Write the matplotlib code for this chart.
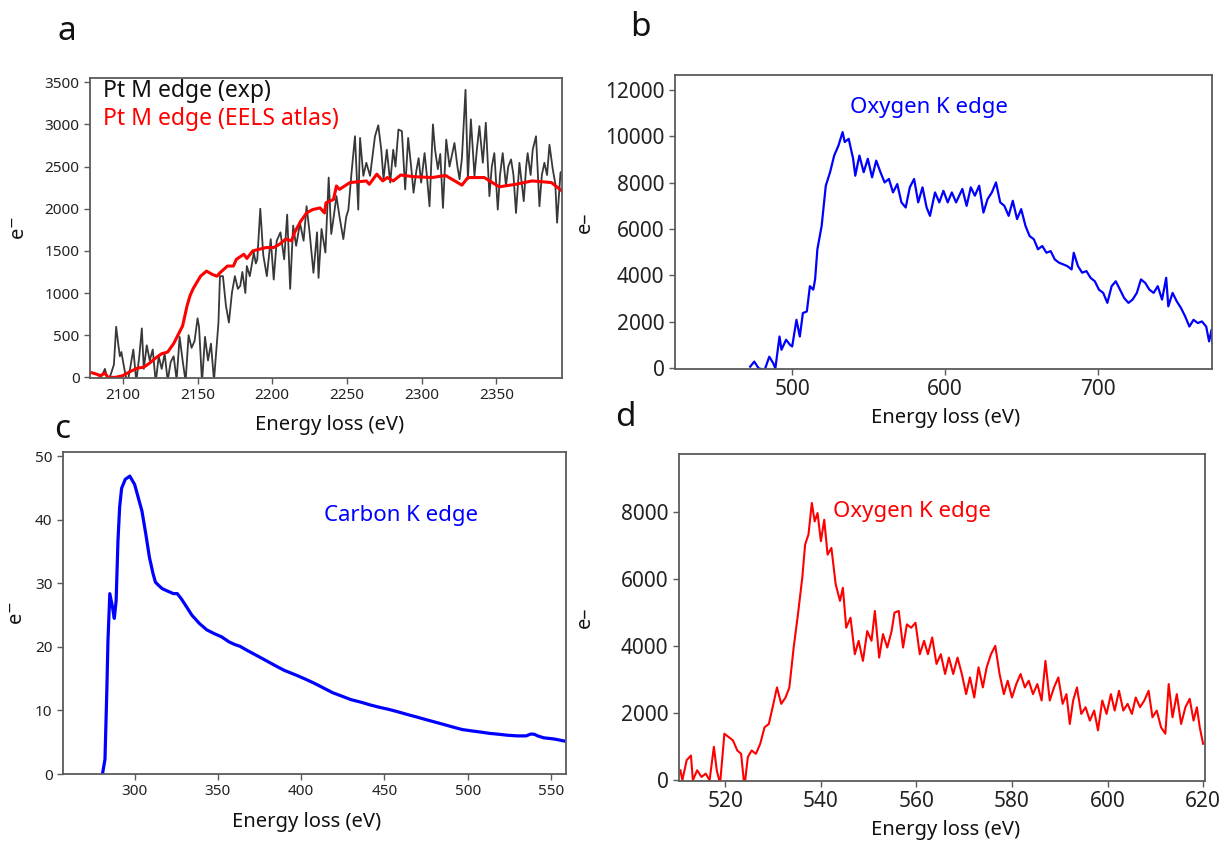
import matplotlib
matplotlib.use("Agg")
import matplotlib.pyplot as plt

plt.rcParams['font.family'] = ['Noto Sans', 'DejaVu Sans']

# ---- panel a : Pt M edge ----
pt_exp_ev = [2084, 2086, 2088, 2090, 2092, 2094, 2095.5, 2097, 2098, 2099, 2101, 2103, 2105, 2107,
             2109, 2111, 2112.7, 2114, 2116, 2118, 2120, 2122, 2124, 2126, 2128, 2130, 2132, 2134,
             2136, 2138, 2140, 2142, 2144, 2146, 2148, 2150, 2151, 2153, 2155, 2157, 2159, 2161,
             2162.5, 2164, 2165, 2167, 2169, 2171, 2173, 2175, 2177, 2178.6, 2180, 2182, 2183, 2185,
             2187.7, 2189, 2190, 2192, 2194, 2196.4, 2199, 2201, 2203, 2205.5, 2208, 2210, 2212, 2214,
             2216, 2218.6, 2221, 2223, 2225, 2227.6, 2230, 2231, 2233, 2235.6, 2237.8, 2239.5, 2240.9,
             2243, 2245, 2247.6, 2249.5, 2251, 2253, 2255.4, 2257.6, 2258.8, 2261, 2263, 2265.5, 2267,
             2268.8, 2271, 2273, 2274.5, 2276.7, 2279, 2281, 2282.5, 2284.5, 2286.8, 2289, 2291, 2293,
             2294.6, 2296.5, 2298, 2299.7, 2302, 2303.5, 2305.3, 2307.6, 2309, 2310.9, 2312.5, 2314.3,
             2316.5, 2318.7, 2320.5, 2322, 2324, 2325.4, 2327, 2329.4, 2331, 2333, 2335.4, 2337, 2338.7,
             2341, 2343, 2345.4, 2347, 2348.7, 2351, 2352.5, 2354.3, 2356.5, 2358, 2359.9, 2361.5,
             2363.2, 2365.5, 2368.4, 2370, 2371, 2373, 2374.4, 2376.6, 2378.9, 2380.5, 2382.2, 2384,
             2385.6, 2387.8, 2389.5, 2390.7, 2393, 2394.5]
pt_exp_counts = [0, 20, 100, -50, 40, 150, 600, 380, 250, 300, 100, -80, 120, 330,
                 -50, 250, 580, 100, 380, 200, 330, -60, 250, 100, 280, -40, 180, 250,
                 -30, 480, 200, -50, 500, 350, 430, 700, 600, -60, 480, 200, 400, -40,
                 300, 650, 1200, 1200, 850, 650, 1000, 1200, 1050, 1085, 1250, 1000, 1320, 1200,
                 1480, 1350, 1400, 2000, 1450, 1200, 1640, 1160, 1620, 1720, 1400, 1930, 1050, 1800,
                 1560, 1830, 1620, 2030, 1720, 1240, 1720, 1180, 1760, 1480, 2370, 1700, 1870,
                 2150, 1910, 1640, 1900, 1990, 2410, 2860, 1990, 2840, 2390, 2545, 2390, 2600,
                 2860, 2990, 2700, 2350, 2700, 2310, 2700, 2500, 2940, 2920, 2230, 2840, 2500,
                 2190, 2450, 2600, 2310, 2660, 2400, 2030, 3000, 2700, 2470, 2650, 2010,
                 2820, 2500, 2650, 2780, 2500, 2350, 2600, 3410, 2350, 3060, 2390, 2700, 2980,
                 2545, 3020, 2150, 2500, 2660, 1990, 2400, 2660, 2270, 2500, 2585, 2400,
                 1950, 2545, 2090, 2500, 2660, 2400, 2700, 2860, 2030, 2400, 2545, 2400,
                 2760, 2470, 2300, 1835, 2430, 2450]

pt_atlas_ev = [2078, 2082, 2085, 2088, 2090, 2095, 2100, 2105, 2110, 2114, 2118, 2122, 2126, 2130,
               2134, 2138, 2140, 2143, 2145, 2147, 2152, 2156, 2160, 2163, 2165, 2170, 2174, 2176,
               2181, 2183, 2187, 2196, 2201, 2205, 2209, 2213, 2215, 2219, 2223, 2227, 2232, 2235,
               2236, 2241, 2243, 2245, 2252, 2263, 2265, 2270, 2274, 2277, 2281, 2286, 2295, 2307,
               2316, 2327, 2331, 2342, 2352, 2363, 2374, 2381, 2387, 2394]
pt_atlas_counts = [60, 40, 20, 50, 0, 0, 20, 70, 110, 120, 170, 230, 280, 300,
                   400, 540, 610, 850, 970, 1050, 1200, 1260, 1220, 1200, 1240, 1320, 1320, 1400,
                   1460, 1410, 1500, 1540, 1540, 1580, 1640, 1620, 1720, 1850, 1950, 1990, 2010, 1950,
                   2070, 2110, 2270, 2230, 2310, 2330, 2290, 2410, 2330, 2370, 2330, 2400, 2380, 2370,
                   2395, 2280, 2370, 2370, 2260, 2290, 2330, 2320, 2310, 2210]

# ---- panel b : Oxygen K edge (wide range) ----
ok_wide_ev = [472.5, 475.2, 478, 482, 485, 487.6, 489, 491.7, 493, 496, 498.6, 500, 502.8, 505,
              507, 509.6, 511.6, 513.8, 515, 516.5, 519.3, 522, 524.8, 527.5, 530.3, 533, 534.4,
              537, 539.9, 541.3, 544, 546.8, 549.5, 552.3, 555, 557.8, 560.5, 563.3, 566, 568.8,
              571.5, 574.3, 577, 579.8, 582.5, 585.3, 588, 590.2, 593.5, 596.3, 599, 601.8, 604.5,
              607.3, 611.4, 614.2, 616.9, 619.6, 622.4, 625.2, 627.9, 630.7, 633.4, 636.2, 638.9,
              641.7, 644.4, 647.2, 649.9, 652.7, 655.4, 658.2, 660.9, 663.7, 666.4, 669.2, 671.9,
              674.7, 677.4, 680.2, 682.9, 684.3, 687.1, 689.8, 692.6, 695.3, 698.1, 700.8, 703.6,
              706.3, 709.1, 711.8, 714.6, 717.3, 720.1, 722.8, 725.6, 728.3, 731.1, 733.8, 736.6,
              739.3, 742.1, 744.8, 746.2, 749, 751.7, 754.5, 757.2, 760, 762.7, 765.5, 768.2, 771,
              772.9, 774.5, 775]
ok_wide_counts = [70, 290, 0, -70, 500, 220, 0, 1370, 800, 1230, 1010, 940, 2090, 1370,
                  2380, 2450, 3540, 3390, 3830, 5130, 6140, 7870, 8450, 9170, 9600, 10180, 9750,
                  9890, 9030, 8300, 9170, 8450, 9030, 8230, 8950, 8450, 8010, 8160, 7580, 7940,
                  7150, 6930, 7800, 8160, 7150, 7800, 6930, 6570, 7580, 7150, 7650, 7150, 7580,
                  7150, 7730, 7000, 7800, 7440, 7870, 6710, 7290, 7580, 8010, 7150, 7000,
                  6570, 7220, 6430, 6860, 6140, 5700, 5560, 5130, 5270, 4980, 5050, 4690,
                  4550, 4480, 4400, 4260, 4980, 4400, 4120, 4190, 3900, 3750, 3390, 3250,
                  2820, 3540, 3750, 3390, 3030, 2820, 2960, 3250, 3830, 3680, 3390, 3250,
                  3540, 2960, 3900, 2670, 3250, 2890, 2600, 2240, 1800, 2090, 1950, 2020, 1800,
                  1160, 1660, 1080]

# ---- panel c : Carbon K edge ----
ck_ev = [280.7, 282.2, 283.3, 284, 285.1, 286.7, 287.8, 288.9, 290, 291, 292.2, 294.4, 297.1,
         300, 302.2, 304.4, 306.7, 308.9, 311.1, 312.5, 314.4, 316.5, 318.9, 323.3, 325.6, 328,
         330, 334.4, 338.9, 343.3, 347.8, 352.2, 356.7, 360, 363.3, 368, 374.4, 380, 385.6, 390,
         396.7, 402, 407.8, 413, 418.9, 425, 430, 436, 441.1, 447, 452.2, 458, 463.3, 469, 474.4,
         480, 485.6, 491, 496.7, 502, 507.8, 513, 518.9, 524, 530, 535, 538, 540, 542, 545.6,
         549, 552.2, 555, 557.8]
ck_counts = [0, 2.3, 13, 21, 28.4, 26.3, 24.5, 27.3, 36.7, 42, 45, 46.4, 46.9,
             45.6, 43.5, 41.4, 37.8, 34.1, 31.5, 30.2, 29.7, 29.2, 28.9, 28.4, 28.4, 27.6,
             26.8, 25, 23.7, 22.7, 22.1, 21.6, 20.8, 20.4, 20.1, 19.4, 18.5, 17.7, 16.9, 16.3,
             15.6, 15.0, 14.3, 13.6, 12.8, 12.2, 11.7, 11.3, 10.9, 10.5, 10.2, 9.8, 9.4, 9.0, 8.6,
             8.2, 7.8, 7.4, 7.0, 6.8, 6.6, 6.4, 6.25, 6.1, 6.0, 6.0, 6.3, 6.25, 6.0, 5.7,
             5.6, 5.5, 5.35, 5.2]

# ---- panel d : Oxygen K edge (near edge) ----
ok_fine_ev = [510.6, 511, 511.9, 512.8, 513.2, 514.1, 515, 515.9, 516.7, 517.6, 518.2, 518.9,
              519.8, 520.7, 521.6, 522.5, 523.3, 524, 524.7, 525.5, 526.4, 527.3, 528.2, 529.1,
              529.9, 530.8, 531.7, 532.6, 533.4, 534.3, 535.2, 536.1, 536.7, 537.4, 538.1, 538.7,
              539.3, 540, 540.7, 541.4, 542.2, 543.1, 544, 544.6, 545.3, 546.2, 547.1, 547.9,
              548.8, 549.7, 550.6, 551.3, 552.2, 553, 553.9, 554.8, 555.4, 556.3, 557.2, 558,
              558.9, 559.8, 560.7, 561.6, 562.4, 563.3, 564.2, 565.1, 566, 566.8, 567.7, 568.6,
              569.5, 570.4, 571.2, 572.1, 573, 573.9, 574.7, 575.6, 576.5, 577.4, 578.3, 579.1,
              580, 580.9, 581.8, 582.7, 583.5, 584.4, 585.3, 586.2, 587, 587.9, 588.8, 589.7,
              590.6, 591.4, 592.1, 592.8, 593.6, 594.5, 595.4, 596.3, 597.2, 598, 598.9, 599.8,
              600.7, 601.5, 602.4, 603.3, 604.2, 605.1, 605.9, 606.8, 607.7, 608.6, 609.4, 610.3,
              611.2, 612.1, 612.8, 613.6, 614.5, 615.4, 616.3, 617.2, 618, 618.7, 619.3, 620]
ok_fine_counts = [300, 0, 600, 740, 0, 300, 100, 200, 0, 1000, 300, -100,
                  1390, 1290, 1190, 890, 790, -200, 690, 890, 790, 1090, 1580, 1680,
                  2180, 2770, 2280, 2470, 2770, 3960, 4950, 6040, 7030, 7330, 8270, 7720,
                  7970, 7130, 7770, 6730, 6930, 5840, 5350, 5740, 4550, 4850, 3760, 4160,
                  3560, 4450, 4160, 5050, 3660, 4360, 3960, 4450, 5000, 5050, 3960, 4650,
                  4550, 4700, 3760, 4160, 3760, 4260, 3470, 3760, 3170, 3660, 3170, 3660,
                  3170, 2570, 3070, 2470, 3370, 2770, 3370, 3760, 4010, 3170, 2570, 2970,
                  2470, 2870, 3170, 2770, 2970, 2570, 2870, 2380, 3560, 2380, 2770, 3070,
                  2280, 2570, 1680, 2380, 2770, 1980, 2180, 1780, 2080, 1490, 2380, 1980,
                  2570, 2080, 2670, 2080, 2280, 1980, 2470, 2180, 2380, 2670, 1880, 2080,
                  1580, 1390, 2870, 1880, 2570, 1680, 2180, 2430, 1780, 2180, 1580, 1090]

W, H = 1228, 843
fig = plt.figure(figsize=(W / 100, H / 100), dpi=100)


def make_axes(left, top, right, bottom):
    ax = fig.add_axes([left / W, 1 - bottom / H, (right - left) / W, (bottom - top) / H])
    for s in ax.spines.values():
        s.set_color('#5a5a5a')
        s.set_linewidth(1.3)
    ax.tick_params(direction='out', length=4, width=1, color='#5a5a5a', labelcolor='#222222')
    return ax


def label_axes(ax, ylab, ylx, xlx, xly, size=14.5):
    ax.text(xlx, xly, 'Energy loss (eV)', transform=ax.transAxes, ha='center', va='center',
            fontsize=size, color='#111111')
    ax.text(ylx, 0.5, ylab, transform=ax.transAxes, ha='center', va='center', rotation=90,
            fontsize=size, color='#111111')


# a
ax_a = make_axes(90, 78, 562, 378)
ax_a.plot(pt_exp_ev, pt_exp_counts, color='#383838', lw=1.3)
ax_a.plot(pt_atlas_ev, pt_atlas_counts, color='#ff0000', lw=2.2)
ax_a.set_xlim(2078, 2394)
ax_a.set_ylim(-8, 3551)
ax_a.set_xticks(range(2100, 2351, 50))
ax_a.set_yticks(range(0, 3501, 500))
ax_a.tick_params(labelsize=11)
ax_a.text(0.028, 0.957, 'Pt M edge (exp)', transform=ax_a.transAxes, fontsize=16.5,
          color='#111111', va='center')
ax_a.text(0.028, 0.862, 'Pt M edge (EELS atlas)', transform=ax_a.transAxes, fontsize=16.5,
          color='#ff0000', va='center')
label_axes(ax_a, 'e$^{-}$', -0.148, 0.508, -0.157)

# b
ax_b = make_axes(675, 75, 1212, 369)
ax_b.plot(ok_wide_ev, ok_wide_counts, color='#0000ff', lw=1.6)
ax_b.set_xlim(423.3, 774.8)
ax_b.set_ylim(-30, 12640)
ax_b.set_xticks([500, 600, 700])
ax_b.set_yticks(range(0, 12001, 2000))
ax_b.tick_params(labelsize=15)
ax_b.text(0.326, 0.888, 'Oxygen K edge', transform=ax_b.transAxes, fontsize=16,
          color='#0000ff', va='center')
label_axes(ax_b, 'e–', -0.168, 0.503, -0.167)

# c
ax_c = make_axes(63, 452, 566, 774)
ax_c.plot(ck_ev, ck_counts, color='#0000ff', lw=2.3)
ax_c.set_xlim(257, 559)
ax_c.set_ylim(0, 50.7)
ax_c.set_xticks(range(300, 551, 50))
ax_c.set_yticks(range(0, 51, 10))
ax_c.tick_params(labelsize=11)
ax_c.text(0.519, 0.804, 'Carbon K edge', transform=ax_c.transAxes, fontsize=16,
          color='#0000ff', va='center')
label_axes(ax_c, 'e$^{-}$', -0.089, 0.485, -0.149)

# d
ax_d = make_axes(679, 454, 1205, 781)
ax_d.plot(ok_fine_ev, ok_fine_counts, color='#ff0000', lw=1.5)
ax_d.set_xlim(510.3, 620.4)
ax_d.set_ylim(-20, 9730)
ax_d.set_xticks(range(520, 621, 20))
ax_d.set_yticks(range(0, 8001, 2000))
ax_d.tick_params(labelsize=15)
ax_d.text(0.293, 0.823, 'Oxygen K edge', transform=ax_d.transAxes, fontsize=16,
          color='#ff0000', va='center')
label_axes(ax_d, 'e–', -0.179, 0.506, -0.15)

# panel letters
for letter, px, py in [('a', 67, 32), ('b', 640, 28), ('c', 62, 430), ('d', 625, 418)]:
    fig.text(px / W, 1 - py / H, letter, fontsize=24, ha='center', va='center', color='#111111')

fig.savefig('out.png', dpi=100)
